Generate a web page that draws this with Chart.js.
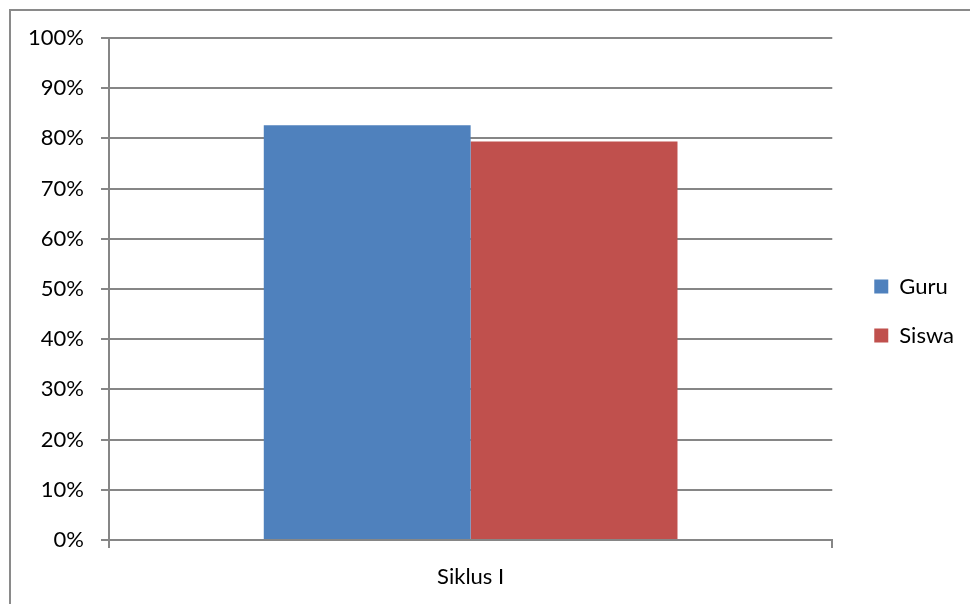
<!DOCTYPE html>
<html>
<head>
<meta charset="utf-8">
<script src="https://cdn.jsdelivr.net/npm/chart.js@4.4.1/dist/chart.umd.min.js"></script>
<style>
  html, body { margin: 0; padding: 0; background: #ffffff; }
  #wrap { position: relative; width: 970px; height: 604px; }
</style>
</head>
<body>
<div id="wrap"><canvas id="c" width="970" height="604"></canvas></div>
<script>
const categories = ["Siklus I"];
const seriesNames = ["Guru", "Siswa"];
const guruValues = [0.826];
const siswaValues = [0.794];
const seriesColors = ["#4f81bd", "#c0504d"];
const yTickMax = 1;
const yTickStep = 0.1;

const FONT = "Lato, 'Open Sans', sans-serif";
const GRID = "#868686";

const frame = {
  id: 'frame',
  beforeDraw(chart) {
    const ctx = chart.ctx;
    ctx.save();
    ctx.fillStyle = '#ffffff';
    ctx.fillRect(0, 0, chart.width, chart.height);
    ctx.strokeStyle = '#8a8a8a';
    ctx.lineWidth = 2;
    ctx.beginPath();
    ctx.moveTo(10, chart.height);
    ctx.lineTo(10, 10);
    ctx.lineTo(chart.width, 10);
    ctx.stroke();
    ctx.restore();
  }
};

new Chart(document.getElementById('c'), {
  type: 'bar',
  data: {
    labels: categories,
    datasets: [
      { label: seriesNames[0], data: guruValues, backgroundColor: seriesColors[0], borderWidth: 0 },
      { label: seriesNames[1], data: siswaValues, backgroundColor: seriesColors[1], borderWidth: 0 }
    ]
  },
  options: {
    responsive: false,
    animation: false,
    devicePixelRatio: 1,
    layout: { padding: { left: 0, top: 38, right: 6, bottom: 20 } },
    plugins: {
      legend: {
        position: 'right',
        labels: {
          boxWidth: 14, boxHeight: 14, padding: 27,
          color: '#000', font: { family: FONT, size: 22 }
        }
      },
      tooltip: { enabled: false }
    },
    datasets: { bar: { categoryPercentage: 0.572, barPercentage: 1.0 } },
    scales: {
      x: {
        offset: true,
        grid: { offset: true, drawOnChartArea: false, drawTicks: true, tickLength: 8, color: GRID, lineWidth: 2 },
        border: { display: true, color: GRID, width: 2 },
        ticks: { color: '#000', font: { family: FONT, size: 22 }, padding: 16 },
        afterFit(s) { s.height = 44; }
      },
      y: {
        min: 0, max: yTickMax,
        grid: { color: GRID, lineWidth: 2, tickLength: 8 },
        border: { display: true, color: GRID, width: 2 },
        ticks: {
          stepSize: yTickStep, color: '#000', padding: 17,
          font: { family: FONT, size: 22 },
          callback: v => Math.round(v * 100) + '%'
        },
        afterFit(s) { s.width = 109; }
      },
      pad: {
        position: 'right', display: true,
        grid: { display: false }, border: { display: false },
        ticks: { display: false },
        afterFit(s) { s.width = 15; }
      }
    }
  },
  plugins: [frame]
});
</script>
</body>
</html>
